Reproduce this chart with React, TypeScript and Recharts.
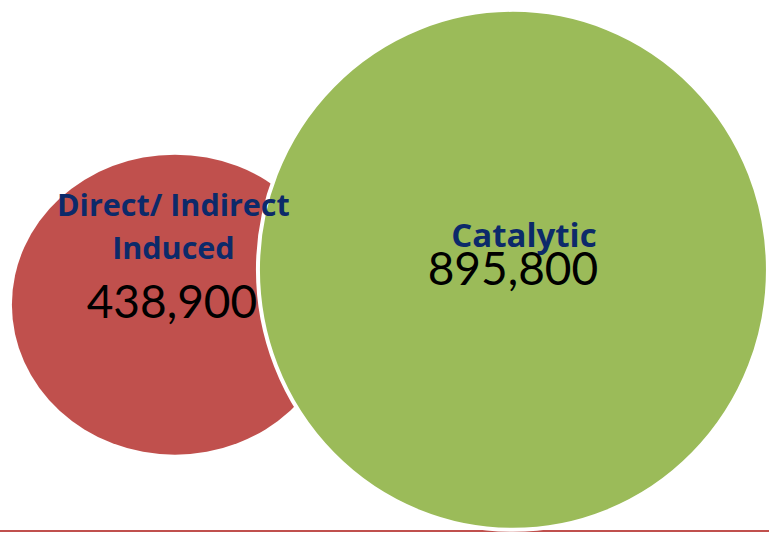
import { ScatterChart, Scatter, XAxis, YAxis, ZAxis } from 'recharts'

// job impact categories and their totals
const categories = ['Direct/ Indirect Induced', 'Catalytic']
const labelLines = [['Direct/ Indirect', 'Induced'], ['Catalytic']]
const jobs = [438900, 895800]
// bubble placement on the (hidden) axes
const xPos = [1, 3]
const yPos = [2.6, 3.0]

const data = categories.map((name, i) => ({ name, x: xPos[i], y: yPos[i], z: jobs[i], lines: labelLines[i], idx: i }))

const fills = ['#C0504D', '#9BBB59']
const aspect = [163 / 150, 255 / 260]
const labelLayout = [
  { dx: -1.5, lineDy: [-89, -46], labelSize: 30.5, numDx: -3, numDy: 13 },
  { dx: 11, lineDy: [-23], labelSize: 33, numDx: 0, numDy: 15 },
]

const Bubble = (props: any) => {
  const { cx, cy, width, payload } = props
  const i = payload.idx
  const r = width / 2
  const a = Math.sqrt(aspect[i])
  return (
    <ellipse
      cx={cx}
      cy={cy}
      rx={r * a}
      ry={r / a}
      fill={fills[i]}
      stroke={i === 1 ? '#fff' : 'none'}
      strokeWidth={4}
    />
  )
}

const BubbleLabel = (props: any) => {
  const { cx, cy, payload } = props
  const l = labelLayout[payload.idx]
  return (
    <g>
      {payload.lines.map((t: string, k: number) => (
        <text
          key={k}
          x={cx + l.dx}
          y={cy + l.lineDy[k]}
          textAnchor="middle"
          fill="#0C2A6A"
          fontFamily="'Open Sans', sans-serif"
          fontWeight={700}
          fontSize={l.labelSize}
        >
          {t}
        </text>
      ))}
      <text x={cx + l.numDx} y={cy + l.numDy} textAnchor="middle" fill="#000" fontFamily="Lato, sans-serif" fontSize={46}>
        {payload.z.toLocaleString('en-US')}
      </text>
    </g>
  )
}

export default function App() {
  return (
    <div style={{ position: 'absolute', left: 0, top: 0, background: '#fff' }}>
      <ScatterChart width={769} height={533} margin={{ top: 0, right: 0, bottom: 1, left: 0 }}>
        <XAxis
          type="number"
          dataKey="x"
          domain={[-0.035, 4.515]}
          height={1}
          tick={false}
          tickLine={false}
          axisLine={{ stroke: '#C0504D', strokeWidth: 2 }}
        />
        <YAxis type="number" dataKey="y" domain={[0, 6.1]} hide />
        <ZAxis type="number" dataKey="z" domain={[Math.min(...jobs), Math.max(...jobs)]} range={[76840, 208300]} />
        <Scatter data={data} shape={<Bubble />} isAnimationActive={false} />
        <Scatter data={data} shape={<BubbleLabel />} isAnimationActive={false} />
      </ScatterChart>
    </div>
  )
}
